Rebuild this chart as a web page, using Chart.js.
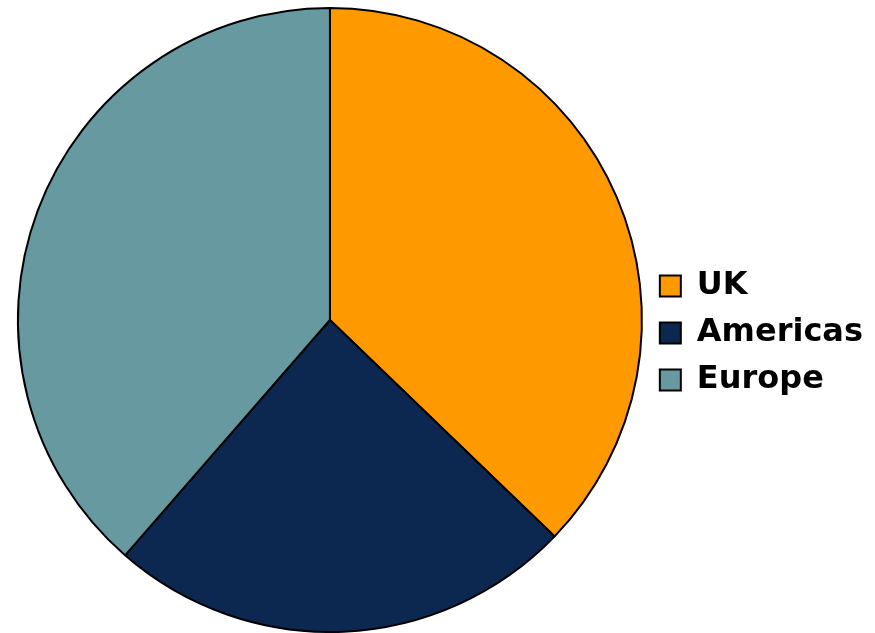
<!DOCTYPE html>
<html>
<head>
<meta charset="utf-8">
<script src="https://cdn.jsdelivr.net/npm/chart.js@4.4.1/dist/chart.umd.min.js"></script>
<style>
  html, body { margin: 0; padding: 0; background: #fff; }
  #wrap { width: 875px; height: 633px; }
</style>
</head>
<body>
<div id="wrap"><canvas id="pieChart" width="875" height="633"></canvas></div>
<script>
// valores (percentual)
const regioes = ['UK', 'Americas', 'Europe'];
const valores = [37.2, 24.2, 38.6];
const cores = ['#FF9900', '#0D2850', '#669AA0'];

new Chart(document.getElementById('pieChart'), {
  type: 'pie',
  data: {
    labels: regioes,
    datasets: [{
      data: valores,
      backgroundColor: cores,
      borderColor: '#000000',
      borderWidth: 2
    }]
  },
  options: {
    responsive: false,
    animation: false,
    layout: { padding: { top: 7, bottom: 0, left: 15, right: 2 } },
    plugins: {
      tooltip: { enabled: false },
      legend: {
        position: 'right',
        // titulo vazio so para empurrar os itens um pouco para baixo
        title: { display: true, text: ' ', font: { size: 10 }, padding: 7 },
        labels: {
          color: '#000000',
          boxWidth: 21,
          boxHeight: 21,
          padding: 15,
          font: { family: 'DejaVu Sans', weight: 'bold', size: 32 },
          generateLabels(chart) {
            const ds = chart.data.datasets[0];
            return chart.data.labels.map((l, i) => ({
              text: l,
              fillStyle: ds.backgroundColor[i],
              strokeStyle: '#000000',
              lineWidth: 2,
              fontColor: '#000000',
              index: i
            }));
          }
        }
      }
    }
  }
});
</script>
</body>
</html>
